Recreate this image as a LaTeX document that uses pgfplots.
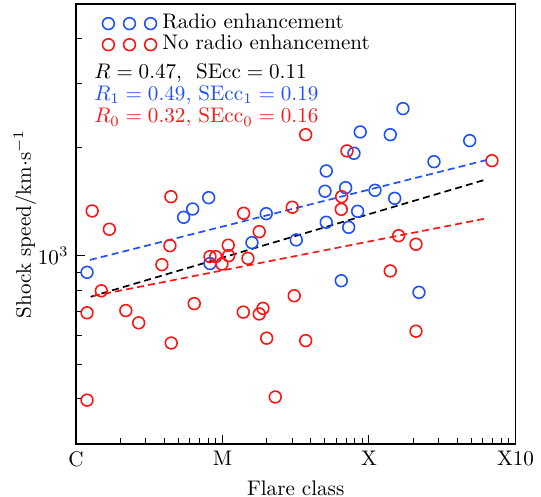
\documentclass[border=0pt]{standalone}
\usepackage{pgfplots}
\pgfplotsset{compat=1.18}
\definecolor{myblue}{RGB}{30,80,255}
\definecolor{myred}{RGB}{255,20,20}
\pgfplotsset{threecirc/.style={legend image code/.code={\draw[##1] plot coordinates {(0pt,0pt)(10pt,0pt)(20pt,0pt)};}}}
\begin{document}
\begin{tikzpicture}
\path[use as bounding box] (-36.0pt,-25.1pt) rectangle (220.4pt,210.4pt);
\begin{axis}[scale only axis,width=208.3pt,height=208.5pt,
  at={(0,0)},anchor=south west,
  xmode=log,ymode=log,
  xmin=1,xmax=1000,ymin=300,ymax=5000,
  xtick={1,10,100,1000},xticklabels={C,M,X,X10},
  minor xtick={2,3,4,5,6,7,8,9,20,30,40,50,60,70,80,90,200,300,400,500,600,700,800,900},
  ytick={1000},
  minor ytick={400,500,600,700,800,900,2000,3000,4000},
  tick pos=left,
  major tick length=4.3pt,minor tick length=2.7pt,
  axis line style={line width=0.6pt},
  every tick/.style={black,line width=0.5pt},
  xlabel={Flare class},
  ylabel={Shock speed/km$\cdot$s$^{-1}$},
  ylabel shift=-6pt,
  legend cell align=left,
  legend style={at={(rel axis cs:0.045,0.99)},anchor=north west,draw=none,fill=none,
    column sep=2pt,
    nodes={inner sep=0.75pt,text height=6.5pt,text depth=2pt}},
]
\addplot[only marks,mark=o,mark size=2.8pt,myblue,line width=0.75pt,threecirc]
coordinates {
(8.05,1449) (6.26,1348) (5.43,1278) (19.9,1308) (15.9,1087) (8.22,951)
(1.19,899) (170.6,2561) (87.2,2206) (139.8,2168) (487,2087) (79.0,1925)
(277.8,1824) (51.1,1719) (50.1,1510) (69.3,1545) (109.9,1519) (149.8,1443)
(83.7,1328) (51.1,1238) (72.7,1199) (31.9,1106) (64.7,852) (219.4,791)
};
\addlegendentry{Radio enhancement}
\addplot[only marks,mark=o,mark size=2.8pt,myred,line width=0.75pt,threecirc]
coordinates {
(1.29,1331) (1.69,1184) (4.45,1458) (4.38,1066) (13.95,1311) (17.83,1166)
(10.95,1069) (8.22,994) (8.99,994) (9.92,948) (11.02,1000) (14.93,983)
(3.86,944) (36.98,2168) (70.8,1954) (691,1836) (29.96,1363) (65.1,1458)
(64.7,1345) (159.4,1136) (209.4,1076) (1.49,799) (1.19,694) (2.19,704)
(2.68,651) (6.42,736) (4.47,572) (1.19,397) (13.87,697) (17.83,689)
(18.9,714) (20.03,590) (22.93,405) (139.8,907) (30.9,774) (37.0,581)
(209.4,617)
};
\addlegendentry{No radio enhancement}
\addplot[forget plot,black,line width=0.8pt,dash pattern=on 3.3pt off 2pt] coordinates {(1.26,769) (636,1630)};
\addplot[forget plot,myblue,line width=0.8pt,dash pattern=on 3.3pt off 2pt] coordinates {(1.246,973) (636,1844)};
\addplot[forget plot,myred,line width=0.8pt,dash pattern=on 3.3pt off 2pt] coordinates {(1.31,773) (636,1270)};
\node[anchor=base west,inner sep=0pt,text=black] at (rel axis cs:0.041,0.830) {$R=0.47$,\ \ $\mathrm{SEcc}=0.11$};
\node[anchor=base west,inner sep=0pt,text=myblue] at (rel axis cs:0.041,0.780) {$R_1=0.49$, $\mathrm{SEcc}_1=0.19$};
\node[anchor=base west,inner sep=0pt,text=myred] at (rel axis cs:0.041,0.7295) {$R_0=0.32$, $\mathrm{SEcc}_0=0.16$};
\end{axis}
\end{tikzpicture}
\end{document}
